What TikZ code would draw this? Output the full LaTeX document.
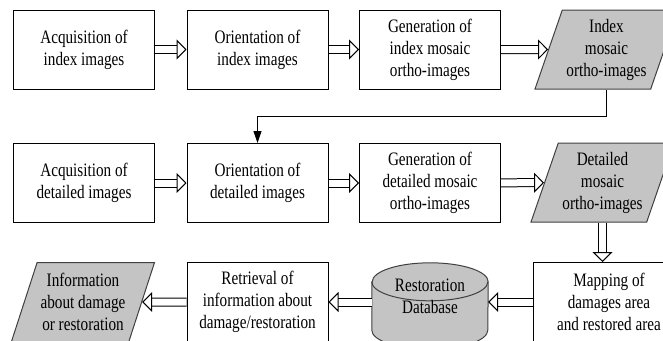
\documentclass[tikz,border=0pt]{standalone}
\usepackage{fontspec}
\setmainfont{Liberation Serif}[FakeStretch=0.8]
\usetikzlibrary{shapes.geometric,arrows.meta,backgrounds}

\begin{document}
\begin{tikzpicture}[x=1pt,y=-1pt,font=\fontsize{19}{22}\selectfont]
	\tikzstyle{process} = [rectangle,draw,line width=1pt,fill=white,minimum width=141pt,minimum height=79pt,align=center,inner sep=2pt]
	\tikzstyle{data}    = [trapezium,trapezium left angle=66,trapezium right angle=114,trapezium stretches body,draw=black!75,line width=1pt,fill=black!23,minimum width=143pt,minimum height=79pt,align=center,inner sep=0pt]
	\tikzstyle{store}   = [rectangle,minimum width=116pt,minimum height=67pt,align=center,inner sep=0pt]
	\tikzstyle{drum}    = [draw=black!75,line width=1pt,fill=black!23]
	\tikzstyle{flow}    = [double=white,double distance=7pt,line width=1pt,-{Triangle[length=10pt,width=20pt,fill=white]}]
	\tikzstyle{back}    = [line width=1pt,-{Triangle[length=12pt,width=8pt]}]
	
	\useasboundingbox (0,0) rectangle (663,340);
	\clip (0,0) rectangle (663,340);
	
	\node[process] (acqindex) at (84,49.5) {Acquisition of\\index images};
	\node[process] (orindex) at (257.5,49.5) {Orientation of\\index images};
	\node[process] (genindex) at (430,49.5) {Generation of\\index mosaic\\ortho-images};
	\node[data] (indexmosaic) at (606.5,49.5) {Index\\mosaic\\ortho-images};
	
	\node[process] (acqdetail) at (84,183) {Acquisition of\\detailed images};
	\node[process] (ordetail) at (257.5,183) {Orientation of\\detailed images};
	\node[process] (gendetail) at (430,183) {Generation of\\detailed mosaic\\ortho-images};
	\node[data] (detailmosaic) at (602.5,182.5) {Detailed\\mosaic\\ortho-images};
	
	\node[process,minimum width=152pt] (mapping) at (609,302) {Mapping of\\damages area\\and restored area};
	\node[store] (restdb) at (430,296.5) {Restoration\\Database};
	\node[process] (retrieval) at (257.5,302) {Retrieval of\\information about\\damage/restoration};
	\node[data] (info) at (83,302) {Information\\about damage\\or restoration};
	
	% database drum behind its text
	\begin{scope}[on background layer]
		\draw[drum] ([yshift=-19pt]restdb.north west) -- (restdb.south west)
			arc[start angle=180,end angle=360,x radius=58pt,y radius=19pt]
			-- ([yshift=-19pt]restdb.north east)
			arc[start angle=0,end angle=180,x radius=58pt,y radius=19pt] -- cycle;
		\draw[drum,fill=none] ([yshift=-19pt]restdb.north west)
			arc[start angle=180,end angle=360,x radius=58pt,y radius=19pt];
	\end{scope}
	
	\path (acqindex) edge[flow] (orindex);
	\path (orindex) edge[flow] (genindex);
	\path (genindex) edge[flow] (indexmosaic);
	
	\draw[back] (indexmosaic.south) -- ++(0,27) -| (ordetail.north);
	
	\path (acqdetail) edge[flow] (ordetail);
	\path (ordetail) edge[flow] (gendetail);
	\path (gendetail) edge[flow] (detailmosaic);
	
	\draw[flow] (detailmosaic.south) -- (detailmosaic.south |- mapping.north);
	\draw[flow] (mapping.west) -- (restdb.east |- mapping.west);
	\draw[flow] (restdb.west |- retrieval.east) -- (retrieval.east);
	\path (retrieval) edge[flow] (info);
\end{tikzpicture}
\end{document}
